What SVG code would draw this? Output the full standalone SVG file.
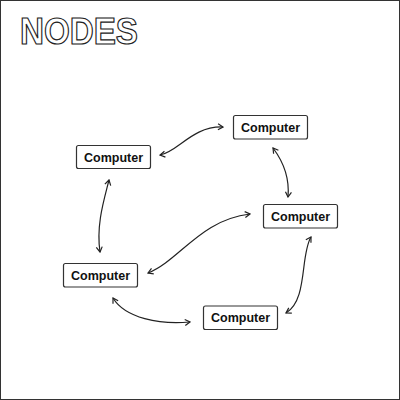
<svg xmlns="http://www.w3.org/2000/svg" width="400" height="400" viewBox="0 0 400 400">
<style>
.node rect{fill:#fff;stroke:#333;stroke-width:1.2}
.node text{font-family:"Liberation Sans",Arial,sans-serif;font-weight:bold;font-size:12.5px;fill:#111;text-anchor:middle}
.conn path{fill:none;stroke:#222;stroke-width:1.2;marker-start:url(#ah);marker-end:url(#ah)}
.title{font-family:"Liberation Sans",Arial,sans-serif;font-weight:bold;font-size:36px;fill:#fff;stroke:#222;stroke-width:1.2}
</style>
<defs>
<marker id="ah" viewBox="0 0 8 8" refX="7" refY="4" markerWidth="8" markerHeight="8" markerUnits="userSpaceOnUse" orient="auto-start-reverse">
<path d="M2,1 L7,4 L2,7" fill="none" stroke="#222" stroke-width="1.2"/>
</marker>
</defs>
<rect x="0.5" y="0.5" width="399" height="399" fill="#fff" stroke="#333" stroke-width="1"/>
<text class="title" x="20" y="43.5" textLength="118" lengthAdjust="spacingAndGlyphs">NODES</text>
<g class="conn" id="connectors">
<path d="M160,155 C178,152 192,126 223,127"/>
<path d="M273,148 C282,160 290,175 288,197"/>
<path d="M109,180 C104,200 96,225 100,252"/>
<path d="M250,214 C200,220 180,260 148,273"/>
<path d="M311,237 C300,255 308,300 286,313"/>
<path d="M113,298 C125,318 160,325 190,322"/>
</g>
<g class="node" id="node1"><rect x="76.5" y="145.5" width="74" height="23" rx="2"/><text x="113.5" y="161.5">Computer</text></g>
<g class="node" id="node2"><rect x="233.5" y="115.5" width="74" height="23.5" rx="2"/><text x="270.5" y="131.5">Computer</text></g>
<g class="node" id="node3"><rect x="263.5" y="204.5" width="74" height="23.5" rx="2"/><text x="300.5" y="220.5">Computer</text></g>
<g class="node" id="node4"><rect x="63.5" y="263.5" width="74" height="23.5" rx="2"/><text x="100.5" y="279.5">Computer</text></g>
<g class="node" id="node5"><rect x="203.5" y="306" width="74" height="23.5" rx="2"/><text x="240.5" y="322">Computer</text></g>
</svg>
